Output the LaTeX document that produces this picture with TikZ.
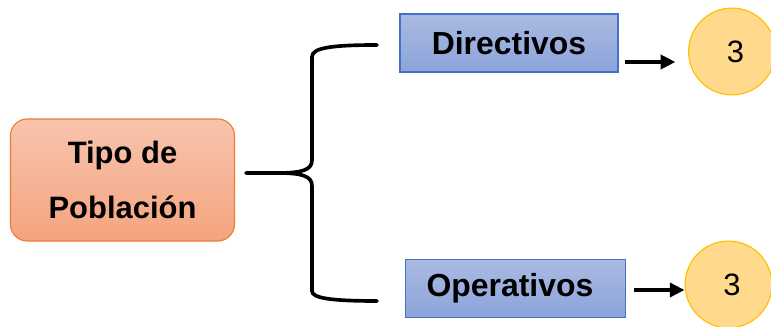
\documentclass[tikz,border=0pt]{standalone}
\usepackage{fontspec}
\setmainfont{Liberation Sans}
\usetikzlibrary{arrows.meta}

\definecolor{tipoTop}{HTML}{F8C4AD}
\definecolor{tipoBot}{HTML}{F4A47F}
\definecolor{tipoLine}{HTML}{ED7D31}
\definecolor{grupoTop}{HTML}{AABAE2}
\definecolor{grupoBot}{HTML}{8BA4DA}
\definecolor{grupoLine}{HTML}{4472C4}
\definecolor{numFill}{HTML}{FFD98C}
\definecolor{numLine}{HTML}{FFC000}

\begin{document}
\begin{tikzpicture}[x=0.025cm,y=-0.025cm,
		tipobox/.style={draw=tipoLine,line width=0.8pt,top color=tipoTop,bottom color=tipoBot,
			rounded corners=0.42cm,minimum width=5.6cm,minimum height=3.05cm,align=center,
			font=\bfseries\fontsize{22}{39}\selectfont},
		grupobox/.style={draw=grupoLine,line width=0.8pt,top color=grupoTop,bottom color=grupoBot,
			minimum height=1.45cm,font=\bfseries\fontsize{22.7}{26}\selectfont},
		numcircle/.style={circle,draw=numLine,line width=0.8pt,fill=numFill,minimum size=2.17cm,
			inner sep=0pt,font=\fontsize{22}{26}\selectfont},
		llave/.style={line width=2.6pt,line cap=round},
		flecha/.style={line width=2.5pt,-{Triangle[length=10.5pt,width=10pt]}}]
		\useasboundingbox (0,0) rectangle (771,327);

		% grupos
		\node[tipobox] (tipo) at (122.5,180) {Tipo de\\Población};
		\node[grupobox,minimum width=5.45cm] (dir) at (509,43) {Directivos};
		\node[grupobox,minimum width=5.5cm] (ope) at (515.5,288.5) {\hspace*{-8pt}Operativos};
		\node[numcircle] (numDir) at (732,51.5) {\hspace*{5pt}3};
		\node[numcircle] (numOpe) at (728.5,284.5) {\hspace*{5pt}3};

		% llave
		\coordinate (fork) at (246,173);
		\coordinate (llaveArriba) at (377,45);
		\coordinate (llaveAbajo) at (377,301);
		\draw[llave] (fork) -- (278,173) .. controls (302,173) and (312,170) .. (312,160)
			-- (312,57) .. controls (312,48) and (330,45) .. (llaveArriba);
		\draw[llave] (278,173) .. controls (302,173) and (312,176) .. (312,186)
			-- (312,291) .. controls (312,298) and (330,301) .. (llaveAbajo);

		% flechas
		\coordinate (dirOut) at (625,62);
		\coordinate (opeOut) at (634,290);
		\draw[flecha,shorten >=9pt] (dirOut) -- (numDir.west |- dirOut);
		\draw[flecha] (opeOut) -- (numOpe.west |- opeOut);
	\end{tikzpicture}
\end{document}
